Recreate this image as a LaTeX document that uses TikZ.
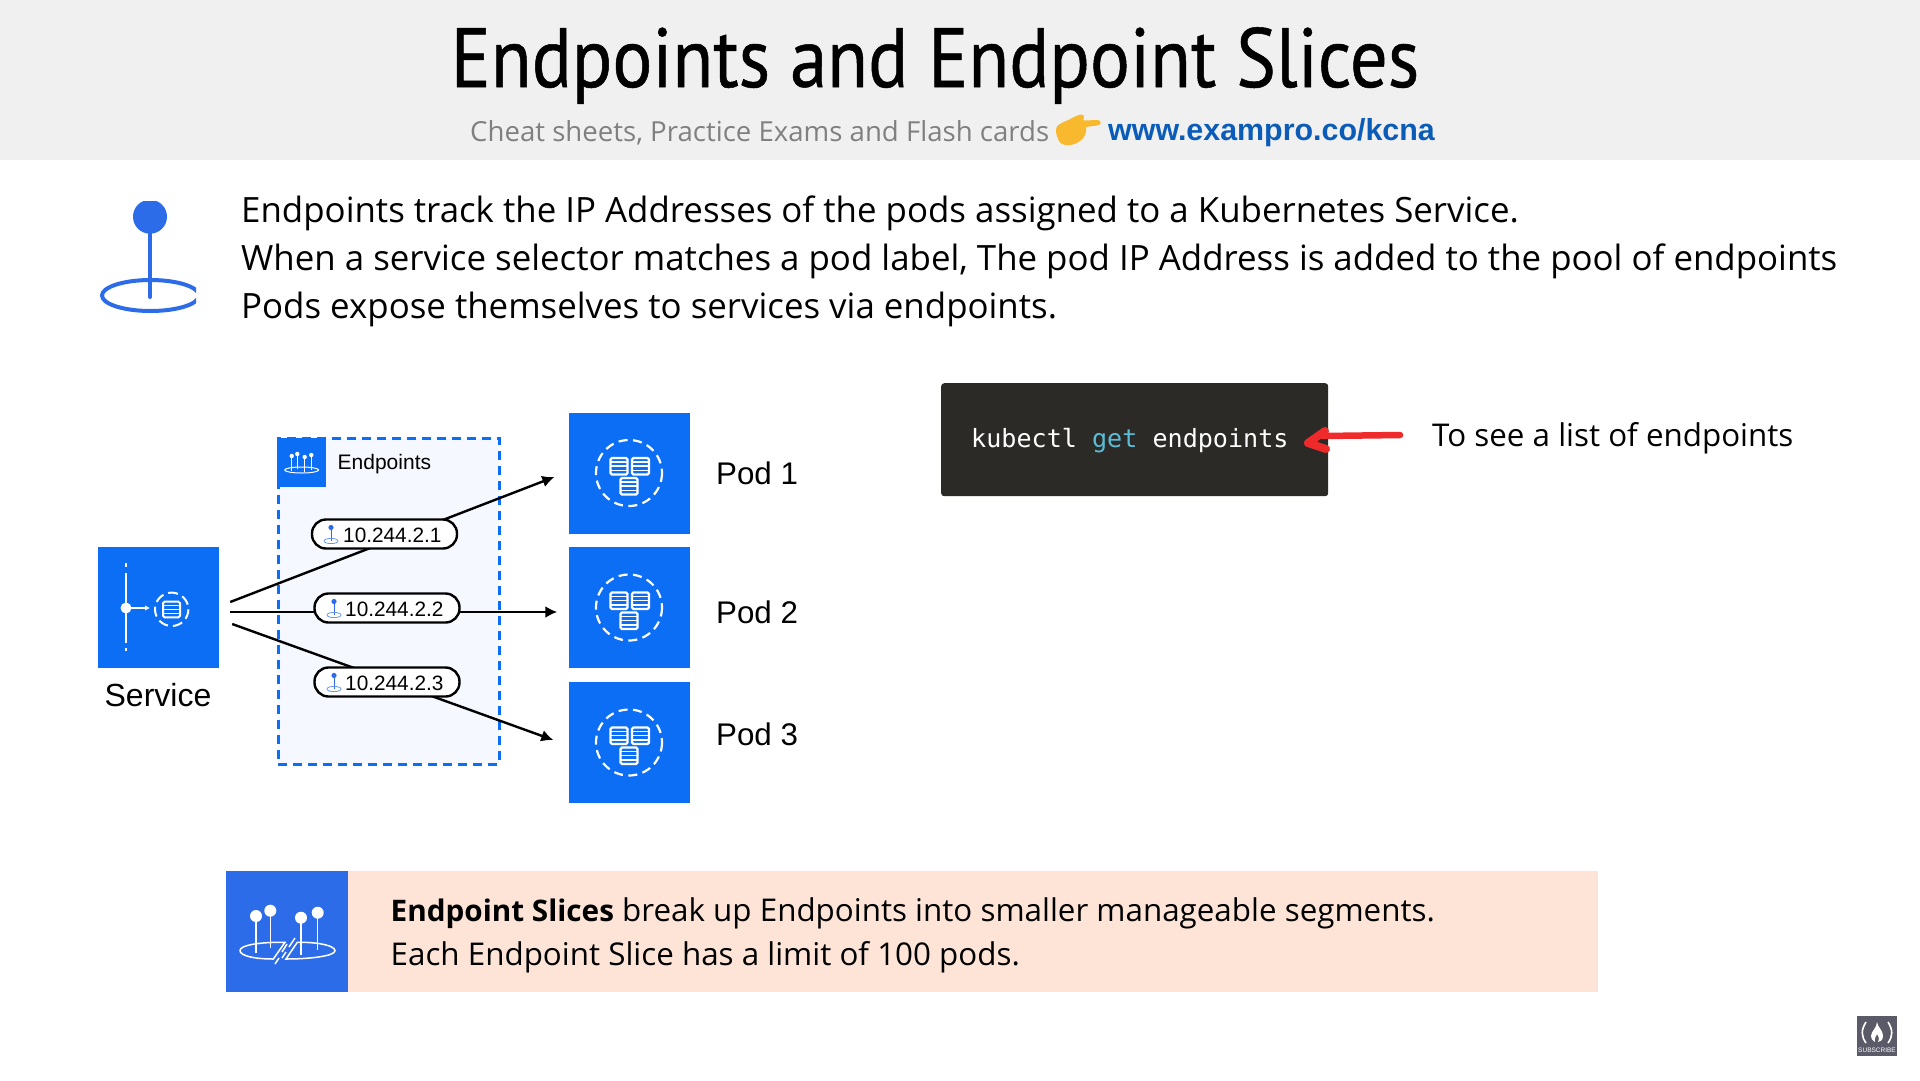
\documentclass[tikz,border=0pt]{standalone}
\usepackage{fontspec}
\setmainfont{Open Sans}
\newfontfamily\arialf{Liberation Sans}
\newfontfamily\monof{DejaVu Sans Mono}
\newfontfamily\titlef[FakeStretch=0.89,FakeBold=0.6]{PT Sans}
\definecolor{awsblue}{HTML}{0B6EF5}
\definecolor{pinblue}{HTML}{2D6CE8}
\definecolor{peach}{HTML}{FDE4D6}
\definecolor{codebg}{HTML}{2B2A27}
\definecolor{getc}{HTML}{5BBCD6}
\definecolor{urlc}{HTML}{0B5CB8}
\definecolor{subg}{HTML}{808080}
\definecolor{bandg}{HTML}{F0F0F0}
\definecolor{epfill}{HTML}{F5F8FE}
\definecolor{handy}{HTML}{F9B92F}
\definecolor{redc}{HTML}{EE2A2A}
\definecolor{logog}{HTML}{5A5A68}
\usetikzlibrary{arrows.meta}
\tikzset{
 x=1pt,y=-1pt,
 bluebox/.style={fill=awsblue,draw=none,minimum size=121pt,inner sep=0pt},
 conn/.style={black,line width=2.4pt},
 connarrow/.style={conn,-{Latex[length=12pt,width=12pt]}},
 pill/.style={draw=black,line width=2.4pt,fill=white,rounded corners=14pt,minimum width=145pt,minimum height=29pt,inner sep=0pt},
 bodytext/.style={anchor=base west,inner sep=0pt,font=\fontsize{34.85}{40}\selectfont},
 midtext/.style={anchor=base west,inner sep=0pt,font=\fontsize{31.35}{36}\selectfont},
 podlabel/.style={anchor=base west,inner sep=0pt,font=\arialf\fontsize{31.3}{36}\selectfont},
 iptext/.style={anchor=base west,inner sep=0pt,font=\arialf\fontsize{20.8}{24}\selectfont},
 whiteline/.style={draw=white,line width=2pt},
}
\newcommand{\podicon}[2]{%
 \begin{scope}[shift={(#1,#2)}]
  \draw[white,line width=2.2pt,dash pattern=on 9pt off 5.5pt] (0,0) circle (33);
  \foreach \ax/\ay in {-18.5/-15,3/-15,-8.5/5}{
   \draw[white,line width=2.2pt,rounded corners=1.5pt] (\ax,\ay) rectangle ++(17,16.5);
   \draw[white,line width=1.5pt] (\ax,\ay+4.1) -- ++(17,0) (\ax,\ay+8.2) -- ++(17,0) (\ax,\ay+12.4) -- ++(17,0);
  }
 \end{scope}}
\newcommand{\smallpin}[2]{%
 \begin{scope}[shift={(#1,#2)}]
  \fill[pinblue] (0,-7.5) circle (2.6);
  \draw[pinblue,line width=1pt] (0,-7.5) -- (0,6);
  \draw[pinblue!70,line width=.8pt] (0,6) ellipse (7 and 2.6);
 \end{scope}}
\begin{document}
\begin{tikzpicture}
\useasboundingbox (0,0) rectangle (1920,1080);
\fill[white] (0,0) rectangle (1920,1080);
\fill[bandg] (0,0) rectangle (1920,160);
% title
\node[inner sep=0pt,anchor=base,font=\titlef\fontsize{84}{90}\selectfont] (title) at (935,87) {Endpoints and Endpoint Slices};
\node[anchor=base west,inner sep=0pt,text=subg,font=\fontsize{27.6}{30}\selectfont] (sub) at (470,141) {Cheat sheets, Practice Exams and Flash cards};
\node[anchor=base west,inner sep=0pt,text=urlc,font=\arialf\bfseries\fontsize{30.4}{34}\selectfont] (url) at (1108,140) {www.exampro.co/kcna};
% hand
\fill[handy] (1056,130) .. controls (1056,123) and (1066,122) .. (1072,118) .. controls (1078,115) and (1082,113) .. (1084,116) .. controls (1085,118) and (1082,120) .. (1084,120.5) -- (1097,120) .. controls (1102,120) and (1102,125) .. (1097,125.5) -- (1086,127) .. controls (1087,134) and (1084,138) .. (1080,141) .. controls (1074,146) and (1062,147) .. (1059,141) .. controls (1057,137) and (1056,134) .. (1056,130) -- cycle;
% pin icon
\begin{scope}
 \clip (90,201) rectangle (196,320);
 \fill[pinblue] (150,216.7) circle (17);
 \draw[pinblue,line width=4pt,line cap=round] (150,216.7) -- (150,297);
 \draw[pinblue,line width=4pt] (150.5,295.5) ellipse (48.5 and 15.5);
\end{scope}
% body text
\node[bodytext] (l1) at (241,222) {Endpoints track the IP Addresses of the pods assigned to a Kubernetes Service.};
\node[bodytext] (l2) at (241,270) {When a service selector matches a pod label, The pod IP Address is added to the pool of endpoints};
\node[bodytext] (l3) at (241,318) {Pods expose themselves to services via endpoints.};
% endpoints box
\node[draw=awsblue,fill=epfill,line width=2.5pt,dash pattern=on 9pt off 6pt,minimum width=221pt,minimum height=326pt,inner sep=0pt,anchor=north west] (epbox) at (277,437) {};
\node[fill=awsblue,minimum size=49pt,inner sep=0pt,anchor=north west] (epicon) at (277,437.5) {};
\foreach \px/\py in {291.7/456,297.3/454,304.7/457,311.3/455}{
 \fill[white] (\px,\py) circle (2.2);
 \draw[white,line width=1pt] (\px,\py) -- (\px,\py+15);
}
\draw[white,line width=1pt] (301.7,470) ellipse (17 and 3);
\node[anchor=base west,inner sep=0pt,font=\arialf\fontsize{21}{24}\selectfont] (eplabel) at (337.5,469) {Endpoints};
% service
\node[bluebox] (svc) at (158.5,607.5) {};
\draw[whiteline] (126,573) -- (126,643);
\draw[whiteline] (126,563) -- (126,567) (126,648) -- (126,651);
\fill[white] (126,608) circle (5.5);
\draw[white,line width=1.6pt,-{Latex[length=5pt,width=5.5pt]}] (126,608) -- (150,608);
\draw[white,line width=2pt,dash pattern=on 10pt off 5pt] (171.7,609.3) circle (16.7);
\draw[white,line width=2pt,rounded corners=1.5pt] (163,601.7) rectangle (180,617.3);
\draw[white,line width=1.5pt] (163,605.6) -- (180,605.6) (163,609.5) -- (180,609.5) (163,613.4) -- (180,613.4);
\node[anchor=base,inner sep=0pt,font=\arialf\fontsize{32}{36}\selectfont] (svclabel) at (158,706) {Service};
% pods
\node[bluebox] (pod1) at (629,473) {};
\node[bluebox] (pod2) at (629,607.5) {};
\node[bluebox] (pod3) at (629,742.5) {};
\podicon{629}{473}\podicon{629}{607.5}\podicon{629}{742.5}
\node[podlabel] (p1l) at (716,484) {Pod 1};
\node[podlabel] (p2l) at (716,623) {Pod 2};
\node[podlabel] (p3l) at (716,745) {Pod 3};
% connectors
\draw[connarrow] ([shift={(11,-5.5)}]svc.east) -- ([shift={(-14,4)}]pod1.west);
\draw[connarrow] ([shift={(11,4.5)}]svc.east) -- ([shift={(-11,4.5)}]pod2.west);
\draw[connarrow] ([shift={(13,16.5)}]svc.east) -- ([shift={(-15,-2.5)}]pod3.west);
% pills
\node[pill] (ip1) at (384.5,534) {};
\node[pill] (ip2) at (387,608) {};
\node[pill] (ip3) at (387,682) {};
\smallpin{331}{535}\smallpin{334}{609}\smallpin{334}{683}
\node[iptext] (ip1t) at (343,542) {10.244.2.1};
\node[iptext] (ip2t) at (345,616) {10.244.2.2};
\node[iptext] (ip3t) at (345,690) {10.244.2.3};
% code
\node[fill=codebg,rounded corners=3pt,minimum width=387pt,minimum height=113pt,inner sep=0pt,anchor=north west] (code) at (941,383) {};
\node[anchor=base west,inner sep=0pt,text=white,font=\monof\fontsize{25.1}{28}\selectfont] (cmd) at (971,447) {kubectl \textcolor{getc}{get} endpoints};
\draw[redc,line width=6.5pt,line cap=round,line join=round] (1400,435) -- (1323,436);
\draw[redc,line width=8pt,line cap=round,line join=round] (1325,431) -- (1308,443) -- (1326,449);
\node[midtext] (see) at (1432,446) {To see a list of endpoints};
% slices banner
\node[fill=peach,minimum width=1250pt,minimum height=121pt,inner sep=0pt,anchor=north west] (banner) at (348,871) {};
\node[fill=pinblue,minimum width=122pt,minimum height=121pt,inner sep=0pt,anchor=north west] (sliceicon) at (226,871) {};
\foreach \px/\py/\pe in {256/916/953,270.3/910.7/948,301/917.7/955,317.7/912.7/950}{
 \fill[white] (\px,\py) circle (6);
 \draw[white,line width=1.5pt] (\px,\py) -- (\px,\pe);
}
\draw[white,line width=1.5pt] (285,942.3) .. controls (260,942) and (240,945) .. (240,950.5) .. controls (240,956) and (255,959) .. (273.3,959) -- cycle;
\draw[white,line width=1.5pt] (297.3,942.3) .. controls (320,942) and (335,946) .. (335,950.7) .. controls (335,956) and (310,959) .. (286,959) -- cycle;
\draw[white,line width=1.5pt] (275,964) -- (279,958) (282,952) -- (287,944) ;
\draw[white,line width=1.5pt] (282,958) -- (286,952) (289,947) -- (295,938);
\node[midtext] (s1) at (390.5,921.5) {{\fontsize{29.7}{36}\selectfont\textbf{Endpoint Slices}} break up Endpoints into smaller manageable segments.};
\node[midtext] (s2) at (390.5,965) {Each Endpoint Slice has a limit of 100 pods.};
% logo
\fill[logog] (1857,1016) rectangle (1897,1056);
\draw[white,line width=1.6pt] (1866,1022) .. controls (1861,1030) and (1861,1036) .. (1866,1043);
\draw[white,line width=1.6pt] (1888,1022) .. controls (1893,1030) and (1893,1036) .. (1888,1043);
\fill[white] (1877,1022) .. controls (1878,1028) and (1883,1030) .. (1883,1036) .. controls (1883,1040) and (1880,1042) .. (1878,1042) .. controls (1880,1038) and (1878,1036) .. (1877,1034) .. controls (1876,1037) and (1874,1038) .. (1875,1042) .. controls (1872,1041) and (1871,1038) .. (1871,1036) .. controls (1871,1031) and (1877,1028) .. (1877,1022) -- cycle;
\node[inner sep=0pt,text=white,font=\arialf\fontsize{6.5}{7}\selectfont] (subs) at (1877,1050) {SUBSCRIBE};
\end{tikzpicture}
\end{document}
